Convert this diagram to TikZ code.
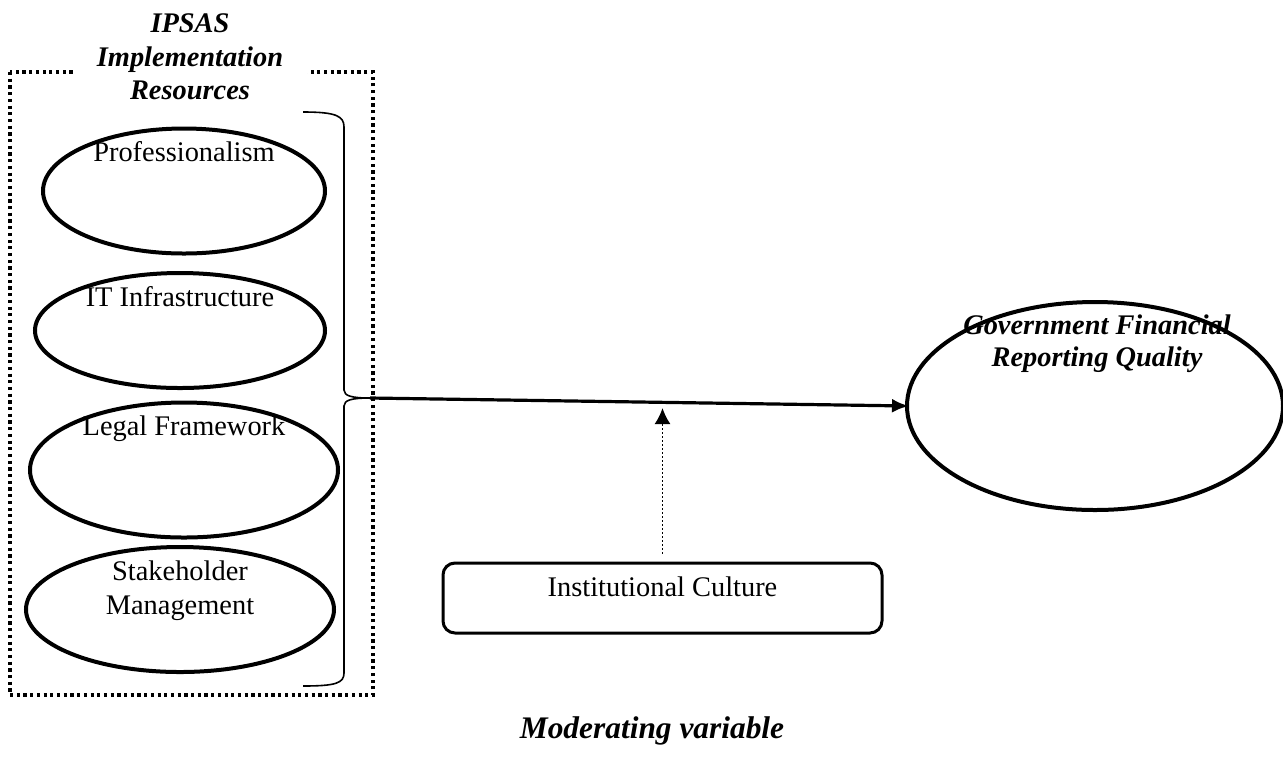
\documentclass[tikz,border=0pt]{standalone}
\usepackage{fontspec}
\setmainfont{Liberation Serif}
\usetikzlibrary{positioning,shapes,arrows.meta}

\begin{document}
\begin{tikzpicture}[
  x=0.5pt,
  y=-0.5pt,
  node distance=69.75pt
]

  \tikzstyle{ellnode}=[draw,ellipse,line width=2pt,inner sep=0pt]
  \tikzstyle{itemtext}=[anchor=base,inner sep=0pt,align=center,font=\fontsize{14.2}{17}\selectfont]
  \tikzstyle{headtext}=[inner sep=0pt,align=center,font=\fontsize{14.2}{16.75}\selectfont\bfseries\itshape]
  \tikzstyle{dotbox}=[line width=1.6pt,dash pattern=on 1.6pt off 1.75pt]
  \tikzstyle{culturebox}=[draw,rectangle,rounded corners=6pt,line width=1.5pt,minimum width=219.5pt,minimum height=35pt,inner sep=0pt]
  \tikzstyle{bracepath}=[line width=0.8pt]
  \tikzstyle{pointer}=[draw,line width=1.6pt,-{Latex[length=8.5pt,width=7pt]}]
  \tikzstyle{modpointer}=[draw,line width=0.9pt,dash pattern=on 1pt off 1pt,-{Latex[length=8pt,width=8pt]}]

  \useasboundingbox (0,0) rectangle (1283,767);

  % frame and heading
  \draw[dotbox] (10,72) rectangle (373,695);
  \node[headtext,fill=white,inner xsep=12pt,inner ysep=8pt] (heading) at (190,57) {IPSAS\\Implementation\\Resources};

  % brace
  \coordinate (bracetip) at (370,398);
  \draw[bracepath] (303,112) .. controls (336,112) and (344,116) .. (344,127)
    -- (344,390) .. controls (344,396) and (352,398) .. (bracetip)
    .. controls (352,398) and (344,400) .. (344,406)
    -- (344,673) .. controls (344,683) and (336,686) .. (303,686);

  % nodes
  \node[ellnode,minimum width=141pt,minimum height=62.5pt] (prof) at (184,191) {};
  \node[ellnode,minimum width=145pt,minimum height=57.5pt] (infra) [below of=prof, xshift=-2pt] {};
  \node[ellnode,minimum width=154pt,minimum height=67.5pt] (legal) [below of=infra, xshift=2pt] {};
  \node[ellnode,minimum width=154pt,minimum height=62.5pt] (stake) [below of=legal, xshift=-2pt] {};

  \node[itemtext] (proftext)  at ([yshift=-17.5pt]prof.north)  {Professionalism};
  \node[itemtext] (infratext) at ([yshift=-17.5pt]infra.north) {IT Infrastructure};
  \node[itemtext] (legaltext) at ([yshift=-17.5pt]legal.north) {Legal Framework};
  \node[itemtext,anchor=center] (staketext) at ([yshift=-22.7pt]stake.north) {Stakeholder\\Management};

  \node[ellnode,minimum width=188pt,minimum height=104pt] (gfrq) at (1095,406) {};
  \node[headtext,font=\fontsize{14.2}{16}\selectfont\bfseries\itshape] (gfrqtext) at ([xshift=1pt,yshift=-22pt]gfrq.north) {Government Financial\\Reporting Quality};

  \node[culturebox] (culture) at (662.5,598) {};
  \node[itemtext] (culturetext) at ([yshift=-17.5pt]culture.north) {Institutional Culture};

  \node[headtext,anchor=base,font=\fontsize{15.7}{19}\selectfont\bfseries\itshape] (modlabel) at (652,738) {Moderating variable};

  % pointers
  \coordinate (modtip) at (662.5,408);
  \draw[pointer] (bracetip) -- ([xshift=2pt]gfrq.west);
  \draw[modpointer,shorten <=4pt] (culture.north) -- (modtip);

\end{tikzpicture}
\end{document}
